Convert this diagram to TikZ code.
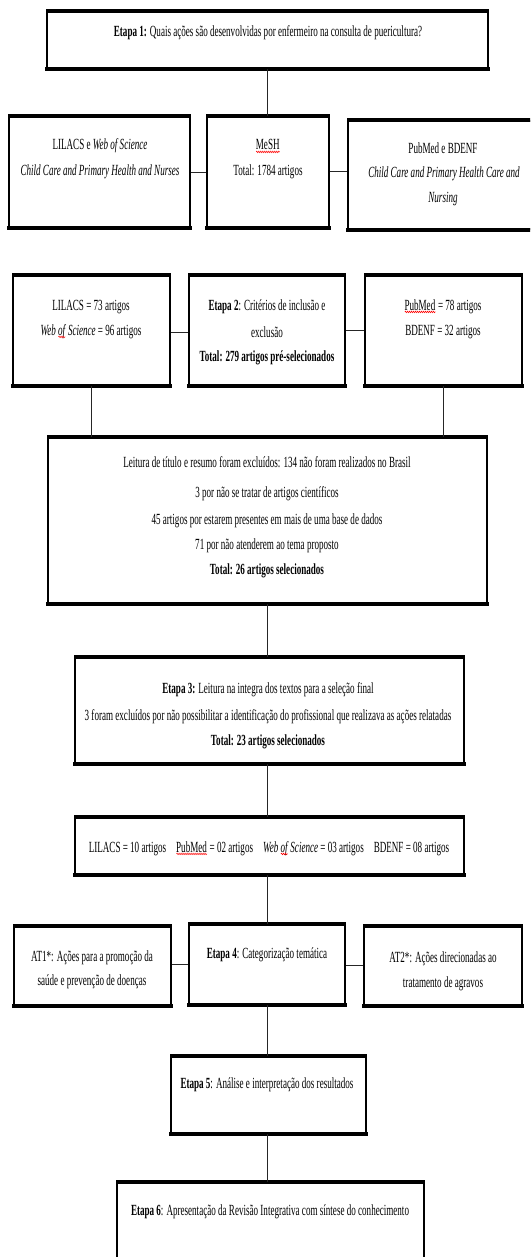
\documentclass[tikz,border=0pt]{standalone}
\usepackage{fontspec}
\setmainfont{Liberation Serif}[FakeStretch=0.585]
\usetikzlibrary{fit,decorations.pathmorphing}
\newlength\sqw
\newcommand\sq[1]{\settowidth\sqw{#1}\rlap{#1}\smash{\raisebox{-3pt}{\tikz[x=1pt,y=1pt]\draw[red,line width=0.5pt,decorate,decoration={snake,amplitude=0.8pt,segment length=2pt}] (0,0)--(\sqw,0);}}}
\tikzset{
  bx/.style={draw, line width=1.6pt, inner sep=0pt, fill=white},
  tk/.style={line width=3.6pt, shorten <=-0.8pt, shorten >=-0.8pt},
  tl/.style={anchor=base, inner sep=0pt, font=\fontsize{15.5}{26}\selectfont},
  cn/.style={line width=0.8pt, black!85},
}
\begin{document}
\begin{tikzpicture}[x=1pt,y=-1pt]
\clip (0,0) rectangle (530,1257);
\fill[white] (0,0) rectangle (530,1257);
% boxes
\node[bx, fit={(47,12)(488,68)}] (b1) {};
\node[bx, fit={(9,117)(190,227)}] (l2) {};
\node[bx, fit={(207,117)(329,227)}] (m2) {};
\node[bx, fit={(348,121)(540,229)}] (r2) {};
\node[bx, fit={(13,276)(170,385)}] (l3) {};
\node[bx, fit={(189,276)(345,385)}] (m3) {};
\node[bx, fit={(365,276)(522,385)}] (r3) {};
\node[bx, fit={(48,438)(487,603)}] (b4) {};
\node[bx, fit={(75,658)(464,763)}] (b5) {};
\node[bx, fit={(75,818)(464,874)}] (b6) {};
\node[bx, fit={(14,927)(171,1005)}] (l7) {};
\node[bx, fit={(189,925)(345,1004)}] (m7) {};
\node[bx, fit={(364,927)(522,1005)}] (r7) {};
\node[bx, fit={(171,1057)(366,1133)}] (b8) {};
\node[bx, fit={(117,1183)(424,1275)}] (b9) {};
\foreach \n in {b1,l2,m2,r2,l3,m3,r3,b4,b5,b6,l7,m7,r7,b8,b9}
  \draw[tk] (\n.north west)--(\n.north east) (\n.south west)--(\n.south east);
% connectors
\draw[cn] (b1.south -| 267,0) -- (m2.north -| 267,0);
\draw[cn] (l2.east |- 0,172) -- (m2.west |- 0,172);
\draw[cn] (m2.east |- 0,171) -- (r2.west |- 0,171);
\draw[cn] (l3.east |- 0,332) -- (m3.west |- 0,332);
\draw[cn] (m3.east |- 0,330) -- (r3.west |- 0,330);
\draw[cn] (l3.south) -- (l3.south |- b4.north);
\draw[cn] (r3.south) -- (r3.south |- b4.north);
\draw[cn] (b4.south -| 267,0) -- (b5.north -| 267,0);
\draw[cn] (b5.south -| 267,0) -- (b6.north -| 267,0);
\draw[cn] (b6.south -| 267,0) -- (m7.north -| 267,0);
\draw[cn] (l7.east |- 0,964) -- (m7.west |- 0,964);
\draw[cn] (m7.east |- 0,965) -- (r7.west |- 0,965);
\draw[cn] (m7.south -| 267,0) -- (b8.north -| 267,0);
\draw[cn] (b8.south -| 267,0) -- (b9.north -| 267,0);
% texts
\node[tl] (t1) at (268,37) {\textbf{Etapa 1:} Quais ações são desenvolvidas por enfermeiro na consulta de puericultura?};
\node[tl] (t2a) at (100,150) {LILACS e \textit{Web of Science}};
\node[tl] (t2b) at (100,176) {\textit{Child Care and Primary Health and Nurses}};
\node[tl] (t2c) at (268,150) {\sq{MeSH}};
\node[tl] (t2d) at (268,176) {Total: 1784 artigos};
\node[tl] (t2e) at (443,154) {PubMed e BDENF};
\node[tl] (t2f) at (444,178) {\textit{Child Care and Primary Health Care and}};
\node[tl] (t2g) at (443,203) {\textit{Nursing}};
\node[tl] (t3a) at (91,310) {LILACS = 73 artigos};
\node[tl] (t3b) at (91,335) {\textit{Web \sq{of} Science} = 96 artigos};
\node[tl] (t3c) at (267,310) {\textbf{Etapa 2}: Critérios de inclusão e};
\node[tl] (t3d) at (267,337) {exclusão};
\node[tl] (t3e) at (267,361) {\textbf{Total: 279 artigos pré-selecionados}};
\node[tl] (t3f) at (443,310) {\sq{PubMed} = 78 artigos};
\node[tl] (t3g) at (443,335) {BDENF = 32 artigos};
\node[tl] (t4a) at (267,467) {Leitura de título e resumo foram excluídos: 134 não foram realizados no Brasil};
\node[tl] (t4b) at (267,497.5) {3 por não se tratar de artigos científicos};
\node[tl] (t4c) at (267,524.5) {45 artigos por estarem presentes em mais de uma base de dados};
\node[tl] (t4d) at (267,549.5) {71 por não atenderem ao tema proposto};
\node[tl] (t4e) at (267,574.5) {\textbf{Total: 26 artigos selecionados}};
\node[tl] (t5a) at (268,693) {\textbf{Etapa 3:} Leitura na integra dos textos para a seleção final};
\node[tl] (t5b) at (268,720) {3 foram excluídos por não possibilitar a identificação do profissional que realizava as ações relatadas};
\node[tl] (t5c) at (268,745) {\textbf{Total: 23 artigos selecionados}};
\node[tl] (t6) at (269,852) {LILACS = 10 artigos\hspace{10pt}\sq{PubMed} = 02 artigos\hspace{10pt}\textit{Web \sq{of} Science} = 03 artigos\hspace{10pt}BDENF = 08 artigos};
\node[tl] (t7a) at (92,961) {AT1*: Ações para a promoção da};
\node[tl] (t7b) at (92,985) {saúde e prevenção de doenças};
\node[tl] (t7c) at (267,958) {\textbf{Etapa 4}: Categorização temática};
\node[tl] (t7d) at (443,962) {AT2*: Ações direcionadas ao};
\node[tl] (t7e) at (443,987) {tratamento de agravos};
\node[tl] (t8) at (267,1088) {\textbf{Etapa 5}: Análise e interpretação dos resultados};
\node[tl] (t9) at (270,1215) {\textbf{Etapa 6}: Apresentação da Revisão Integrativa com síntese do conhecimento};
\end{tikzpicture}
\end{document}
